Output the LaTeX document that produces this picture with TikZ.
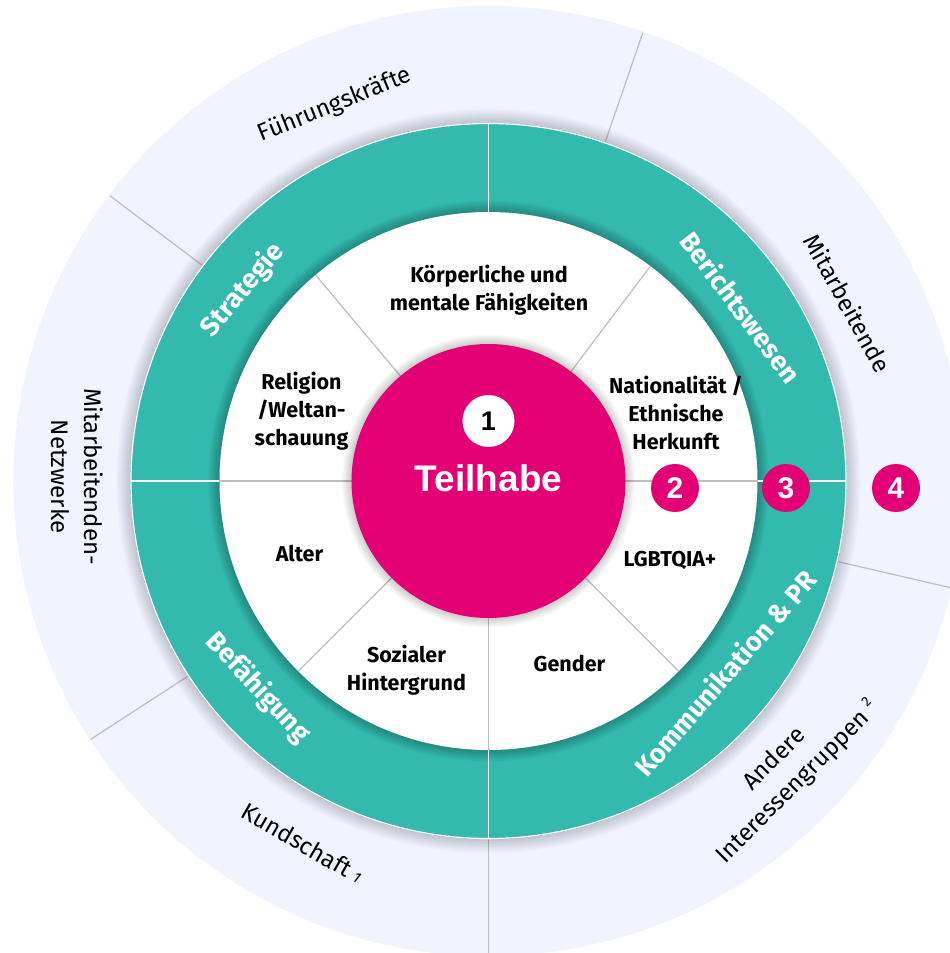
\documentclass[tikz,border=0pt]{standalone}
\usepackage{fontspec}
\setmainfont{Fira Sans}
\newfontfamily\arialfont{Liberation Sans}
\definecolor{teal1}{RGB}{51,185,174}
\definecolor{mag}{RGB}{226,0,116}
\definecolor{lightbg}{RGB}{241,243,254}
\definecolor{spoke}{RGB}{190,190,190}
\begin{document}
\begin{tikzpicture}[x=1pt,y=1pt,
  inlabel/.style={font=\fontsize{21.5}{28}\selectfont\bfseries, align=center, text=black, inner sep=0pt},
  ringlabel/.style={font=\fontsize{27}{30}\selectfont\bfseries, text=white, inner sep=0pt},
  outlabel/.style={font=\fontsize{24}{33}\selectfont, align=center, text=black, inner sep=0pt},
  numcirc/.style={circle, fill=mag, minimum size=48pt, inner sep=0pt, text=white, font=\arialfont\fontsize{30}{30}\selectfont\bfseries},
  spokeline/.style={draw=spoke, line width=1.2pt},
  divline/.style={draw=white, line width=1.6pt},
]
\useasboundingbox (-488.5,-472) rectangle (461.5,481);
\fill[white] (-488.5,-472) rectangle (461.5,481);
% outer light ring
\fill[lightbg] (0,0) circle [radius=475];
\foreach \a in {71,143,213,270,347} \draw[spokeline] (\a:359) -- (\a:474);
% shadow of teal ring
\foreach \k in {1,...,10} \fill[black, opacity=0.02] (0,0) circle [radius={357+1.5*\k}];
% teal ring
\fill[teal1] (0,0) circle [radius=358];
\draw[white, line width=1.2pt] (0,0) circle [radius=357.5];
\foreach \k in {1,...,8} \fill[black, opacity=0.03] (0,0) circle [radius={269+1.4*\k}];
\fill[white] (0,0) circle [radius=269];
\foreach \a in {0,90,180,270} \draw[divline] (\a:269) -- (\a:357);
% spokes in the white ring
\foreach \a in {0,53,130,180,225,270,315} \draw[spokeline] (\a:130) -- (\a:269);
% core
\foreach \k in {1,...,8} \fill[black, opacity=0.025] (0,0) circle [radius={137+1.2*\k}];
\node[circle, fill=mag, minimum size=274pt, inner sep=0pt] (core) at (0,0) {};
\node[circle, fill=white, minimum size=52pt, inner sep=0pt, font=\arialfont\fontsize{27}{27}\selectfont\bfseries] (one) at (0,60) {1};
\node[font=\arialfont\fontsize{37}{37}\selectfont\bfseries, text=white, anchor=base, inner sep=0pt] (teil) at (0,-11) {Teilhabe};
% number markers
\node[numcirc] (two) at (186.5,-7) {2};
\node[numcirc] (three) at (297.5,-7) {3};
\node[numcirc] (four) at (407.5,-7) {4};
% labels in white ring
\node[inlabel] (koerper) at (0.5,191) {Körperliche und\\mentale Fähigkeiten};
\node[inlabel] (nation) at (187.5,68) {Nationalität /\\Ethnische\\Herkunft};
\node[inlabel] (relig) at (-187,70) {Religion\\/Weltan-\\schauung};
\node[inlabel] (alter) at (-189,-73) {Alter};
\node[inlabel] (sozial) at (-82,-189) {Sozialer\\Hintergrund};
\node[inlabel] (gender) at (81,-182.5) {Gender};
\node[inlabel] (lgbt) at (181.5,-79) {LGBTQIA+};
% labels in teal ring
\node[ringlabel, rotate=50] (strat) at (-245.5,191) {Strategie};
\node[ringlabel, rotate=-53] (bericht) at (252.5,174) {Berichtswesen};
\node[ringlabel, rotate=-47] (befaeh) at (-230.5,-207) {Befähigung};
\node[ringlabel, rotate=49] (komm) at (236.5,-192) {Kommunikation \& PR};
% labels in outer ring
\node[outlabel, rotate=22] (fuehr) at (-153.5,376) {Führungskräfte};
\node[outlabel, rotate=-61] (mitarb) at (359.5,178) {Mitarbeitende};
\node[outlabel, rotate=-90] (netz) at (-411,4.5) {Mitarbeitenden-\\Netzwerke};
\node[outlabel, rotate=-30] (kund) at (-186,-362) {Kundschaft {\fontsize{15}{15}\selectfont\itshape\raisebox{1pt}{1}}};
\node[outlabel, rotate=45] (andere) at (298,-290) {Andere\\Interessengruppen {\fontsize{14}{14}\selectfont\raisebox{11pt}{2}}};
\end{tikzpicture}
\end{document}
